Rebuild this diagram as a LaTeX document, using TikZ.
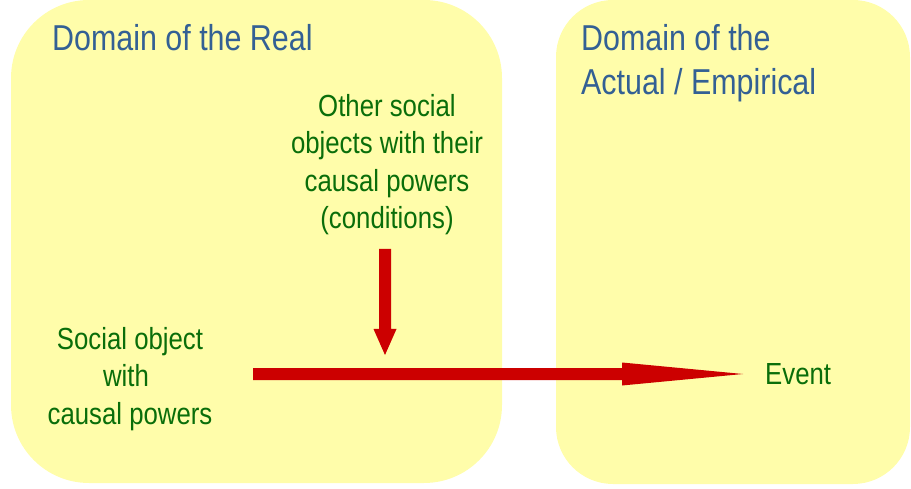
\documentclass[tikz,border=0pt]{standalone}
\usepackage{fontspec}
\setmainfont[FakeStretch=0.845]{Liberation Sans}
\usetikzlibrary{calc}
\definecolor{boxyellow}{RGB}{255,253,170}
\definecolor{titleblue}{RGB}{51,96,148}
\definecolor{txtgreen}{RGB}{10,110,10}
\definecolor{arrred}{RGB}{204,0,0}
\begin{document}
\begin{tikzpicture}[x=1pt,y=-1pt,
  domainbox/.style={fill=boxyellow,draw=none},
  titletext/.style={text=titleblue,font=\fontsize{36}{44}\selectfont,inner sep=0pt,align=left},
  greentext/.style={text=txtgreen,font=\fontsize{30.5}{37.5}\selectfont,inner sep=0pt,align=center},
  arrowfill/.style={fill=arrred,draw=none}]
\useasboundingbox (0,0) rectangle (911,489);
% domains
\fill[domainbox,rounded corners=78pt] (11,0) rectangle (502,483);
\fill[domainbox,rounded corners=57pt] (556,0) rectangle (910,484);
% titles (base anchor = baseline of last line)
\node[titletext,anchor=base west] (real) at (52,51) {Domain of the Real};
\node[titletext,anchor=base west] (actual) at (581,95) {Domain of the\\Actual / Empirical};
% labels
\node[greentext,anchor=base] (other) at (387,229) {Other social\\objects with their\\causal powers\\(conditions)};
\node[greentext,anchor=base] (social) at (130,424) {Social object\\with\kern8pt\\causal powers};
\node[greentext,anchor=base west] (event) at (765,384) {Event};
% horizontal arrow
\coordinate (hstart) at (253,374);
\coordinate (hneck) at (622,374);
\coordinate (htip) at (743,374);
\fill[arrowfill] ($(hstart)+(0,-6)$) -- ($(hneck)+(0,-6)$) -- ($(hneck)+(0,-11.5)$) -- (htip)
  -- ($(hneck)+(0,11.5)$) -- ($(hneck)+(0,6)$) -- ($(hstart)+(0,6)$) -- cycle;
% vertical arrow
\coordinate (vstart) at (385,249);
\coordinate (vneck) at (385,329);
\coordinate (vtip) at (385,355);
\fill[arrowfill] ($(vstart)+(-6,0)$) -- ($(vneck)+(-6,0)$) -- ($(vneck)+(-11.5,0)$) -- (vtip)
  -- ($(vneck)+(11.5,0)$) -- ($(vneck)+(6,0)$) -- ($(vstart)+(6,0)$) -- cycle;
\end{tikzpicture}
\end{document}
